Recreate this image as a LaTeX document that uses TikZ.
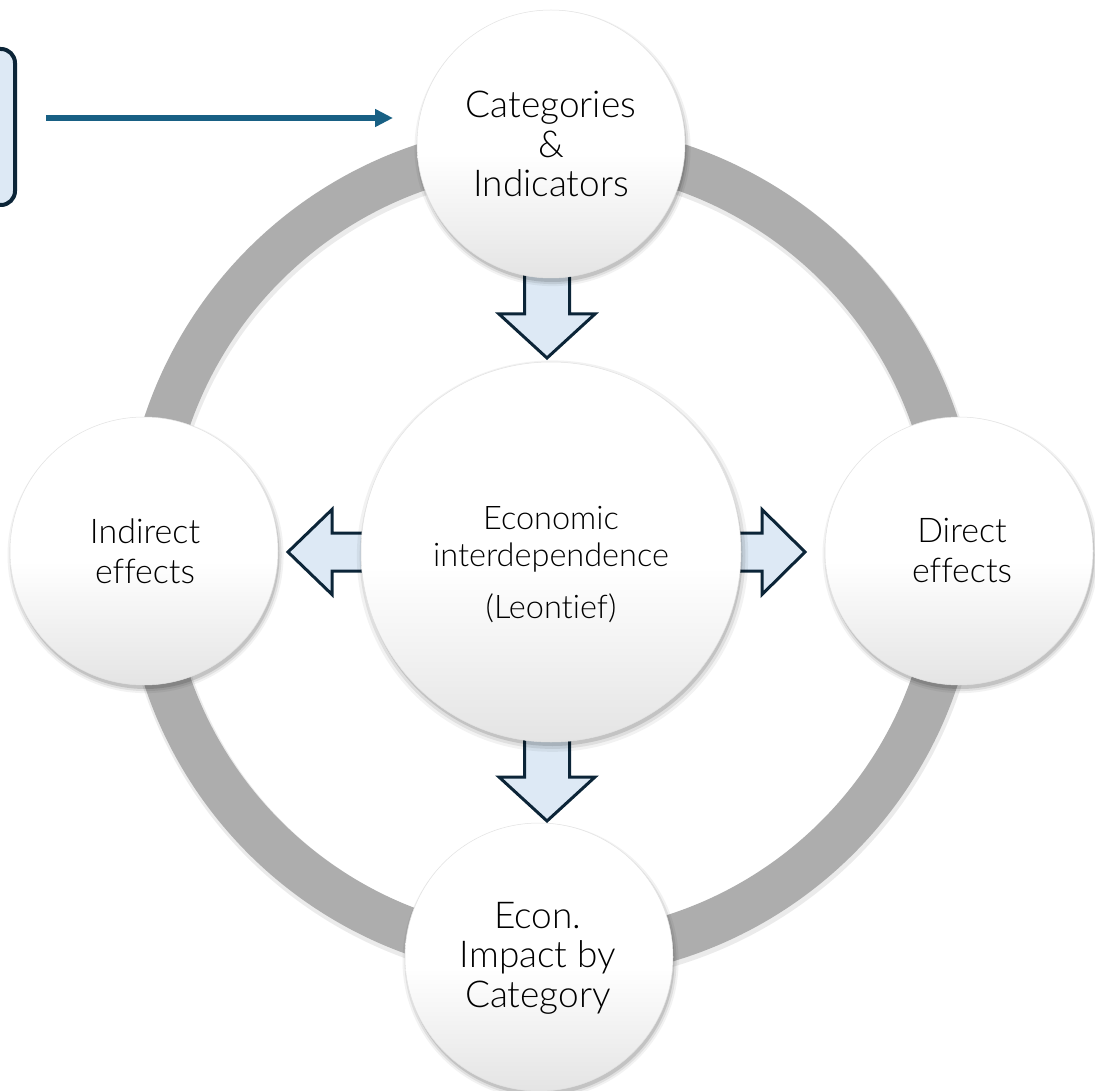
\documentclass[tikz,border=0pt]{standalone}
\usepackage{fontspec}
\IfFontExistsTF{Lato Light}{\setmainfont{Lato Light}[Ligatures=NoCommon]}{\setmainfont{Lato}[Ligatures=NoCommon]}
\usetikzlibrary{arrows.meta,shadows}
\definecolor{boxfill}{HTML}{DDE9F5}
\definecolor{navy}{HTML}{0C2538}
\definecolor{linkblue}{HTML}{186084}
\definecolor{ringgray}{HTML}{ADADAD}
\definecolor{rimgray}{HTML}{E2E2E2}
\definecolor{shadegray}{HTML}{E4E4E4}
\pgfdeclareverticalshading{bubbleshade}{100bp}{color(0bp)=(shadegray); color(25bp)=(shadegray); color(48bp)=(white); color(100bp)=(white)}
\tikzset{
  bubble/.style={circle, inner sep=0pt, minimum size=#1, draw=rimgray, line width=0.5pt,
    shading=bubbleshade,
    general shadow={fill=black, opacity=0.05, shadow scale=1.03, shadow xshift=1.5pt, shadow yshift=-4pt},
    general shadow={fill=black, opacity=0.08, shadow scale=1.015, shadow xshift=1.5pt, shadow yshift=-4pt},
    general shadow={fill=black, opacity=0.12, shadow scale=1.0, shadow xshift=1.5pt, shadow yshift=-4pt}},
  bigfont/.style={font=\fontsize{37}{39.5}\selectfont, align=center, text=black},
  midfont/.style={font=\fontsize{34}{40}\selectfont, align=center, text=black},
  cenfont/.style={font=\fontsize{32.5}{36.5}\selectfont, align=center, text=black},
  barrowsty/.style={draw=navy, fill=boxfill, line width=3pt, line join=miter},
  pics/barr/.style args={#1/#2/#3/#4}{code={
    \draw[barrowsty] (-#1,-#2) -- (-#4,-#2) -- (-#4,-#3) -- (0,0) -- (-#4,#3) -- (-#4,#2) -- (-#1,#2) -- cycle;}},
  srcbox/.style={draw=navy, fill=boxfill, line width=4pt, rounded corners=14pt,
    minimum width=70pt, minimum height=156pt, inner sep=0pt},
  link/.style={draw=linkblue, line width=6.5pt, -{Triangle[length=18pt,width=17pt]}}
}
\begin{document}
\begin{tikzpicture}[x=1pt,y=-1pt]
\useasboundingbox (0,0) rectangle (1095,1091);
\fill[white] (0,0) rectangle (1095,1091);
% ring
\coordinate (ringc) at (551,551);
\draw[black, opacity=0.08, line width=50pt] ([shift={(1,3)}]ringc) circle (405);
\draw[ringgray, line width=46pt] (ringc) circle (405);
% block arrows (tips)
\coordinate (t1) at (547,358);
\coordinate (t2) at (547,821);
\coordinate (t3) at (288,552);
\coordinate (t4) at (805,552);
\pic[rotate=-90] at (t1) {barr=96/22.5/48/44};
\pic[rotate=-90] at (t2) {barr=86/22.5/48/44};
\pic[rotate=180] at (t3) {barr=82/19/42.5/44};
\pic at (t4) {barr=70/19/42.5/43};
% circles
\node[bubble=268pt] (cat) at (551,144) {};
\node[bubble=268pt] (ind) at (144,551) {};
\node[bubble=268pt] (dir) at (959,551) {};
\node[bubble=268pt] (imp) at (539,957) {};
\node[bubble=380pt] (cen) at (551,552) {};
% texts
\node[bigfont] (cat-t) at (cat) {Categories\\\&\\Indicators};
\node[midfont] (ind-t) at (145,551) {Indirect\\effects};
\node[midfont] (dir-t) at (962,551) {Direct\\effects};
\node[bigfont] (imp-t) at (538,958) {Econ.\\Impact by\\Category};
\node[cenfont] (cen-t) at (551,565) {Economic\\interdependence\\[16pt](Leontief)};
% source box and link
\node[srcbox] (src) at (-20,127) {};
\coordinate (l1) at (46,118);
\coordinate (l2) at (393,118);
\draw[link] (l1) -- (l2);
\end{tikzpicture}
\end{document}
